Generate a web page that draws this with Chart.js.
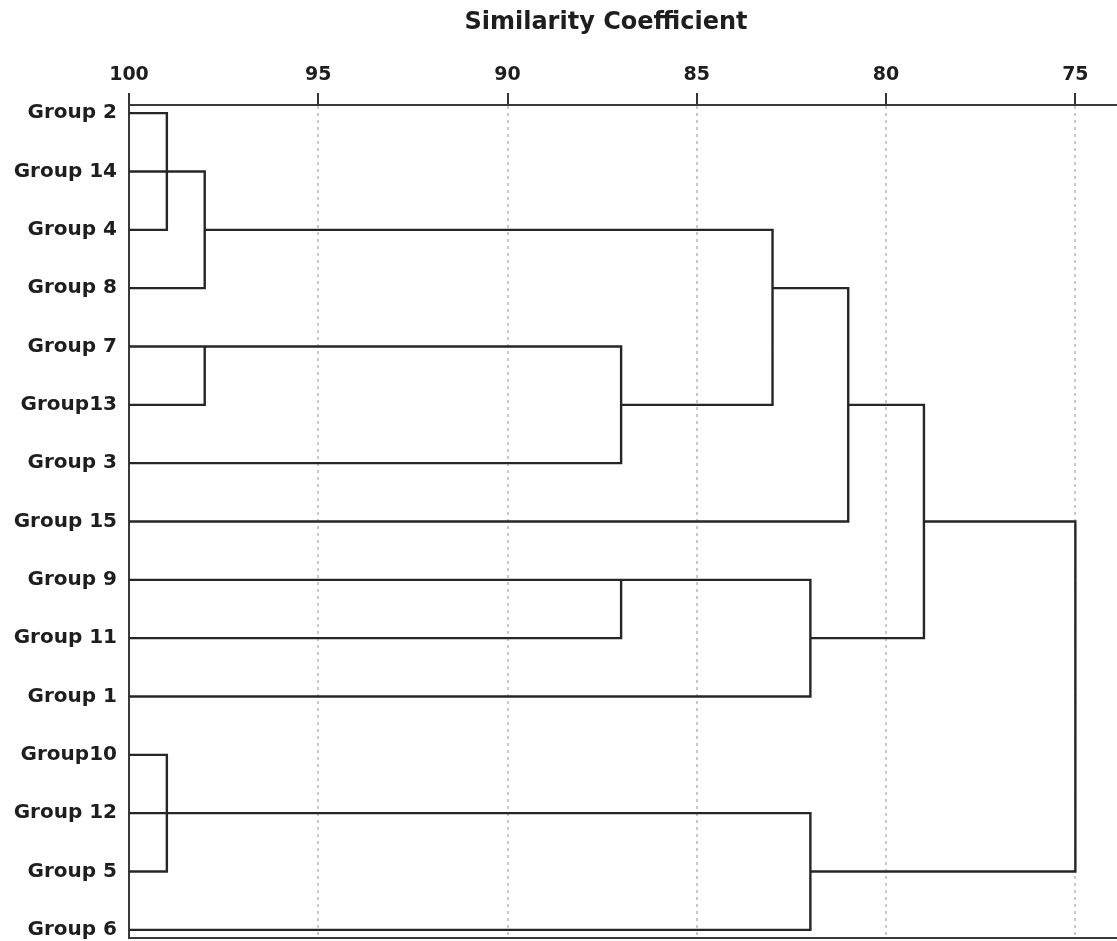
<!DOCTYPE html>
<html>
<head>
<meta charset="utf-8">
<title>Similarity Coefficient dendrogram</title>
<script src="https://cdn.jsdelivr.net/npm/chart.js@4.4.1/dist/chart.umd.min.js"></script>
<style>
  html, body { margin: 0; padding: 0; background: #fff; }
  #wrap { width: 1117px; height: 941px; }
</style>
</head>
<body>
<div id="wrap"><canvas id="dendro"></canvas></div>
<script>
// leaves, top to bottom
const groups = ['Group 2', 'Group 14', 'Group 4', 'Group 8', 'Group 7', 'Group13', 'Group 3', 'Group 15',
                'Group 9', 'Group 11', 'Group 1', 'Group10', 'Group 12', 'Group 5', 'Group 6'];
// similarity level of each join
const joinLevels = [99, 98, 98, 87, 83, 81, 87, 82, 79, 99, 82, 75];
// what each join links: L = leaf index, M = earlier join
const joinMembers = [
  ['L0', 'L2'],
  ['M0', 'L1', 'L3'],
  ['L4', 'L5'],
  ['M2', 'L6'],
  ['M1', 'M3'],
  ['M4', 'L7'],
  ['L8', 'L9'],
  ['M6', 'L10'],
  ['M5', 'M7'],
  ['L11', 'L13'],
  ['M9', 'L12', 'L14'],
  ['M8', 'M10']
];
const leafLevel = 100;
const xTicks = [100, 95, 90, 85, 80, 75];
const titleText = 'Similarity Coefficient';

// build the link lines (null points break the line between segments)
const nodeRow = {}, nodeLevel = {};
groups.forEach((g, i) => { nodeRow['L' + i] = i; nodeLevel['L' + i] = leafLevel; });
const linkPoints = [];
joinMembers.forEach((members, j) => {
  const lvl = joinLevels[j];
  const rows = members.map(m => nodeRow[m]);
  members.forEach(m => {
    linkPoints.push({ x: nodeLevel[m], y: nodeRow[m] }, { x: lvl, y: nodeRow[m] }, { x: null, y: null });
  });
  const top = Math.min(...rows), bottom = Math.max(...rows);
  linkPoints.push({ x: lvl, y: top }, { x: lvl, y: bottom }, { x: null, y: null });
  nodeRow['M' + j] = Math.floor((top + bottom) / 2);
  nodeLevel['M' + j] = lvl;
});

const titlePlugin = {
  id: 'sheetTitle',
  afterDraw(chart) {
    const c = chart.ctx;
    c.save();
    c.font = 'bold 24px "DejaVu Sans"';
    c.fillStyle = '#1e1e1e';
    c.textAlign = 'center';
    c.textBaseline = 'middle';
    c.fillText(titleText, 606, 23);
    c.restore();
  }
};

// keep the scales from reserving extra room for overhanging labels
const noPad = s => { s.paddingTop = 0; s.paddingBottom = 0; s.paddingLeft = 0; s.paddingRight = 0; };

new Chart(document.getElementById('dendro'), {
  type: 'scatter',
  data: {
    datasets: [{
      data: linkPoints,
      showLine: true,
      spanGaps: false,
      borderColor: '#262626',
      borderWidth: 2.4,
      borderCapStyle: 'square',
      pointRadius: 0,
      pointHoverRadius: 0,
      tension: 0
    }]
  },
  options: {
    responsive: true,
    maintainAspectRatio: false,
    animation: false,
    layout: { padding: { top: 0, right: 0, bottom: 3, left: 0 } },
    plugins: { legend: { display: false }, tooltip: { enabled: false } },
    scales: {
      x: {
        type: 'linear', position: 'top', reverse: true, min: 73.9, max: 100,
        afterBuildTicks: s => { s.ticks = xTicks.map(v => ({ value: v })); },
        afterFit: s => { s.height = 105; noPad(s); },
        ticks: {
          padding: 7, color: '#1e1e1e', maxRotation: 0, autoSkip: false,
          font: { family: 'DejaVu Sans', size: 19, weight: 'bold' },
          callback: v => String(v)
        },
        grid: {
          color: c => (c.tick && c.tick.value === 100) ? 'rgba(0,0,0,0)' : '#c9c9c9',
          lineWidth: 2, tickLength: 12, tickColor: '#333', tickWidth: 2
        },
        border: { display: true, color: '#3a3a3a', width: 2, dash: [3, 4] }
      },
      x2: {
        type: 'linear', position: 'bottom', reverse: true, min: 73.9, max: 100,
        afterFit: s => { s.height = 0; noPad(s); },
        ticks: { display: false },
        grid: { display: false, drawTicks: false },
        border: { display: true, color: '#3a3a3a', width: 2 }
      },
      y: {
        type: 'linear', position: 'left', reverse: true, min: -0.14, max: 14.14,
        afterBuildTicks: s => { s.ticks = groups.map((g, i) => ({ value: i })); },
        afterFit: s => { s.width = 129; noPad(s); },
        ticks: {
          padding: 12, color: '#1e1e1e', autoSkip: false,
          font: { family: 'DejaVu Sans', size: 20, weight: 'bold' },
          callback: v => groups[v]
        },
        grid: { display: false, drawTicks: false },
        border: { display: true, color: '#3a3a3a', width: 2 }
      }
    }
  },
  plugins: [titlePlugin]
});
</script>
</body>
</html>
